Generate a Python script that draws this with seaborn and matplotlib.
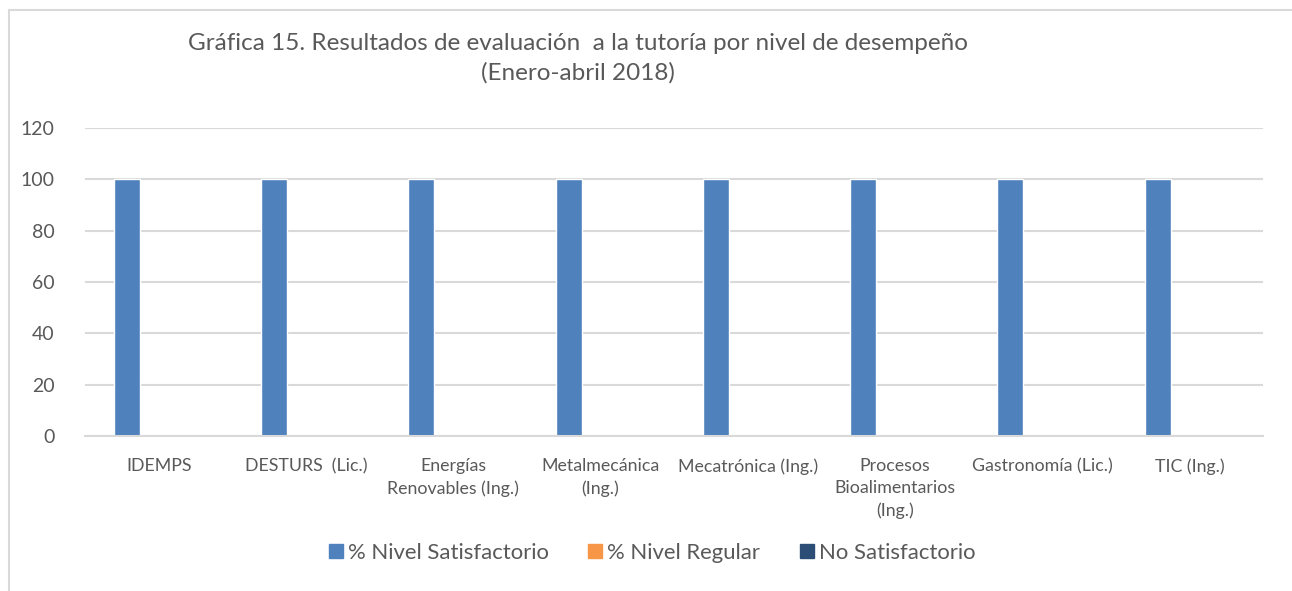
import matplotlib
matplotlib.use("Agg")
import matplotlib.pyplot as plt
import seaborn as sns
import pandas as pd
from matplotlib.lines import Line2D

categories = ["IDEMPS", "DESTURS  (Lic.)", "Energías\nRenovables (Ing.)", "Metalmecánica\n(Ing.)",
              "Mecatrónica (Ing.)", "Procesos\nBioalimentarios\n(Ing.)", "Gastronomía (Lic.)", "TIC (Ing.)"]
series_names = ["% Nivel Satisfactorio", "% Nivel Regular", "No Satisfactorio"]
satisfactorio = [100, 100, 100, 100, 100, 100, 100, 100]
regular = [0, 0, 0, 0, 0, 0, 0, 0]
no_satisfactorio = [0, 0, 0, 0, 0, 0, 0, 0]
yticks = [0, 20, 40, 60, 80, 100, 120]
colors = ["#4F81BD", "#F79646", "#2C4D75"]

rows = []
for name, vals in zip(series_names, [satisfactorio, regular, no_satisfactorio]):
    for c, v in zip(categories, vals):
        rows.append({"cat": c, "serie": name, "val": v})
df = pd.DataFrame(rows)

sns.set_theme(style="white")
plt.rcParams["font.family"] = ["Lato", "DejaVu Sans"]
txt = "#595959"
grid = "#D9D9D9"

fig = plt.figure(figsize=(12.92, 5.91), dpi=100)
ax = fig.add_axes([85/1292, 1-436/591, (1263-85)/1292, (436-128)/591])

sns.barplot(data=df, x="cat", y="val", hue="serie", palette=colors, ax=ax,
            width=0.647, gap=0.175, saturation=1, legend=False, errorbar=None)

ax.set_ylim(0, 120)
ax.set_xlim(-0.5, len(categories) - 0.5)
ax.set_yticks(yticks)
ax.set_yticklabels([str(t) for t in yticks], fontsize=14, color=txt)
ax.set_xticks(range(len(categories)))
ax.set_xticklabels(categories, fontsize=12.8, color=txt, linespacing=1.45, va="top")
ax.tick_params(axis="x", length=0, pad=16)
ax.tick_params(axis="y", length=0, pad=22)
ax.set_xlabel("")
ax.set_ylabel("")
for s in ["top", "right", "left"]:
    ax.spines[s].set_visible(False)
ax.spines["bottom"].set_color(grid)
ax.spines["bottom"].set_linewidth(1.5)
ax.yaxis.grid(True, color=grid, linewidth=1.5)
ax.set_axisbelow(True)

fig.text(0.447, 1-43/591, "Gráfica 15. Resultados de evaluación  a la tutoría por nivel de desempeño",
         ha="center", va="center", fontsize=17.5, color=txt)
fig.text(0.447, 1-73/591, "(Enero-abril 2018)", ha="center", va="center", fontsize=17.5, color=txt)

handles = [Line2D([0], [0], marker="s", linestyle="none", markersize=10, markerfacecolor=c,
                  markeredgecolor=c) for c in colors]
fig.legend(handles, series_names, loc="center", bbox_to_anchor=(0.504, 1-553/591), ncol=3,
           frameon=False, fontsize=15.9, handletextpad=0.15, columnspacing=1.7, labelcolor=txt,
           handlelength=0.8)

# outer chart border
fig.add_artist(Line2D([8.5/1292, 8.5/1292], [0, 1-10/591], color=grid, linewidth=1.5,
                      transform=fig.transFigure))
fig.add_artist(Line2D([8.5/1292, 1], [1-10/591, 1-10/591], color=grid, linewidth=1.5,
                      transform=fig.transFigure))

fig.savefig("out.png", dpi=100, facecolor="white")
